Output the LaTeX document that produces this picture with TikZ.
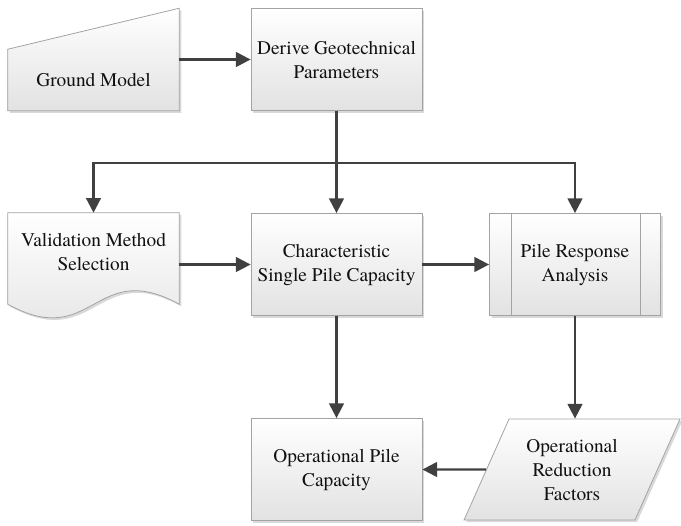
\documentclass[tikz,border=0pt]{standalone}
\usepackage{fontspec}
\setmainfont{texgyretermes-regular.otf}
\usetikzlibrary{arrows.meta,shapes.geometric,shadows,calc}
\definecolor{Ink}{HTML}{111111}
\definecolor{Edge}{HTML}{A3A3A3}
\definecolor{ShadeTop}{HTML}{FFFFFF}
\definecolor{ShadeBot}{HTML}{E2E2E2}
\definecolor{Wire}{HTML}{404040}
\tikzset{
  txt/.style={align=center,text=Ink,font=\fontsize{14.5}{18}\selectfont},
  lit/.style={draw=Edge,line width=0.6pt,top color=ShadeTop,bottom color=ShadeBot,
    drop shadow={shadow xshift=1.6pt,shadow yshift=-1.6pt,fill=black,opacity=.15}},
  bx/.style={lit,txt,rectangle,minimum width=128.25pt,minimum height=76.5pt,inner sep=0pt},
  frm/.style={rectangle,minimum width=128.25pt,inner sep=0pt},
  pio/.style={lit,txt,trapezium,trapezium left angle=62,trapezium right angle=118,
    trapezium stretches=true,minimum width=162pt,minimum height=75.75pt,inner sep=0pt},
  arr/.style={draw=Wire,line width=1.7pt,-{Triangle[length=11pt,width=11pt]}},
}
\begin{document}
\begin{tikzpicture}[x=0.75pt,y=-0.75pt]
% -top row-
\node[frm,minimum height=76.5pt] (gm) at (93.5,59.5) {};
\shade[lit] (gm.south west) -- (gm.south east) -- (gm.north east) -- ([yshift=-30.75pt]gm.north west) -- cycle;
\node[txt] (gmt) at (93.5,80) {Ground Model};
\node[bx] (dgp) at (336.5,59.5) {Derive Geotechnical\\Parameters};
% -middle row-
\node[frm,minimum height=68.25pt] (vms) at (93.5,258.5) {};
\shade[lit] (vms.south west) -- (vms.north west) -- (vms.north east) -- (vms.south east)
  .. controls +(-85,-47) and +(86,47) .. (vms.south west) -- cycle;
\node[txt] (vmst) at (93.5,252) {Validation Method\\Selection};
\node[bx] (csp) at (336.5,264.5) {Characteristic\\Single Pile Capacity};
\node[bx] (pra) at (575,264.5) {Pile Response\\Analysis};
\draw[Edge,line width=0.6pt] ([xshift=16.5pt]pra.north west) -- ([xshift=16.5pt]pra.south west);
\draw[Edge,line width=0.6pt] ([xshift=-15.75pt]pra.north east) -- ([xshift=-15.75pt]pra.south east);
% -bottom row-
\node[bx] (opc) at (336.5,469.5) {Operational Pile\\Capacity};
\node[pio] (orf) at (572,469.5) {Operational\\Reduction\\Factors};
% -flow-
\coordinate (fork) at (336.5,163);
\draw[arr] (gm.east) -- (dgp.west);
\draw[arr] (dgp.south) -- (fork) -- (csp.north);
\draw[arr] (fork) -| (vms.north);
\draw[arr] (fork) -| (pra.north);
\draw[arr] (vms.east |- csp.west) -- (csp.west);
\draw[arr] (csp.east) -- (pra.west);
\draw[arr] (csp.south) -- (opc.north);
\draw[arr] (pra.south) -- (pra.south |- orf.north);
\draw[arr] (orf.west) -- (opc.east);
\pgfresetboundingbox
\path[use as bounding box] (0,0) rectangle (681,525);
\end{tikzpicture}
\end{document}
